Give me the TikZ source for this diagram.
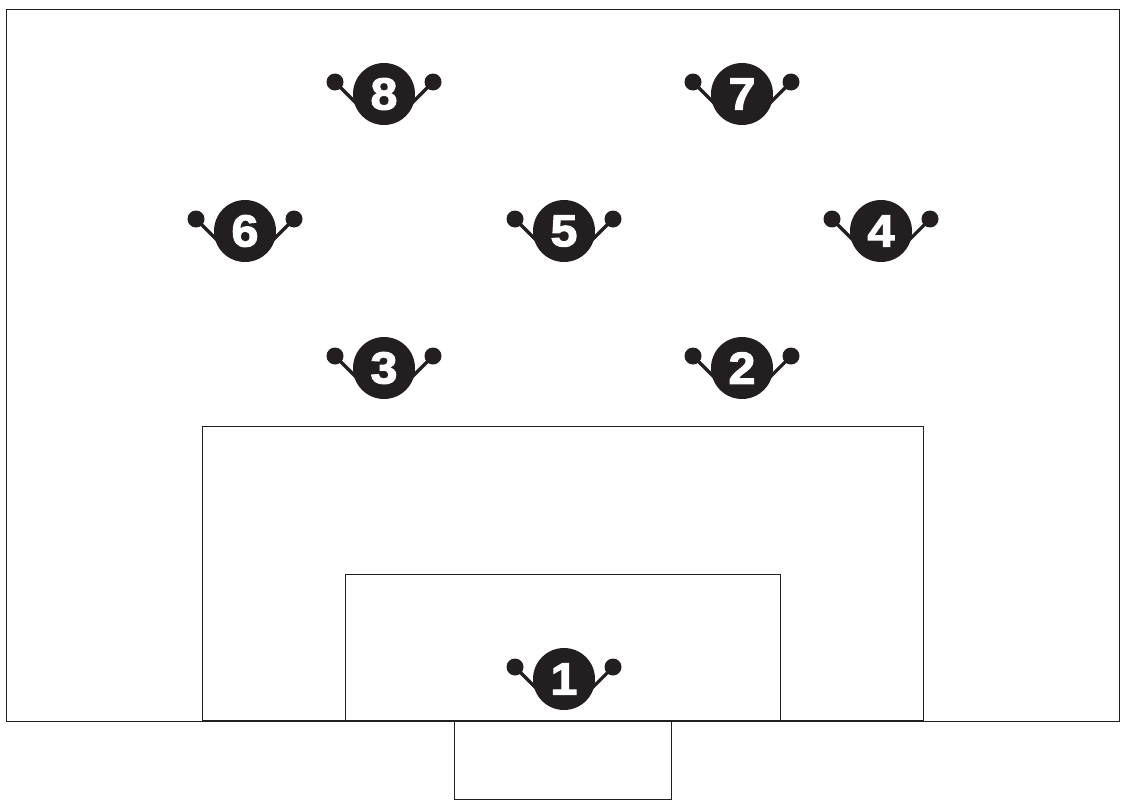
\documentclass[tikz,border=0pt]{standalone}
\usepackage{fontspec}
\setmainfont{Liberation Sans}
\newfontfamily\numfont[FakeBold=2.4,FakeStretch=1.08]{Liberation Sans Bold}
\definecolor{ink}{HTML}{231F20}
\tikzset{
  x=1pt,y=-1pt,
  fieldline/.style={draw=ink,line width=0.85pt},
  goalline/.style={draw=ink,line width=1.5pt},
  playerbody/.style={circle,fill=ink,minimum size=62pt,inner sep=0pt,text=white,
    font=\numfont\fontsize{45}{45}\selectfont},
  playerhand/.style={circle,fill=ink,minimum size=17pt,inner sep=0pt},
  playerarm/.style={draw=ink,line width=3.2pt}
}
\begin{document}
\begin{tikzpicture}
\useasboundingbox (0,0) rectangle (1121,800);
\draw[fieldline] (6.8,9.5) rectangle (1119.8,721);
\draw[fieldline] (202.8,426) rectangle (923.8,721);
\draw[fieldline] (345.8,574) rectangle (780.8,721);
\draw[fieldline] (454.8,721) rectangle (671.8,799);
\draw[goalline] (202.8,721.2) -- (923.8,721.2);
\foreach \n/\px/\py in {1/564/679,2/742/368,3/384/368,4/881/231,5/564/231,6/245/231,7/742/94,8/384/94}{
  \node[playerhand] (hl\n) at (\px-49,\py-12) {};
  \node[playerhand] (hr\n) at (\px+49,\py-12) {};
  \coordinate (el\n) at (\px-24,\py+13);
  \coordinate (er\n) at (\px+24,\py+13);
  \draw[playerarm] (hl\n.center) -- (el\n);
  \draw[playerarm] (hr\n.center) -- (er\n);
  \node[playerbody] (p\n) at (\px,\py) {\n};
}
\end{tikzpicture}
\end{document}
